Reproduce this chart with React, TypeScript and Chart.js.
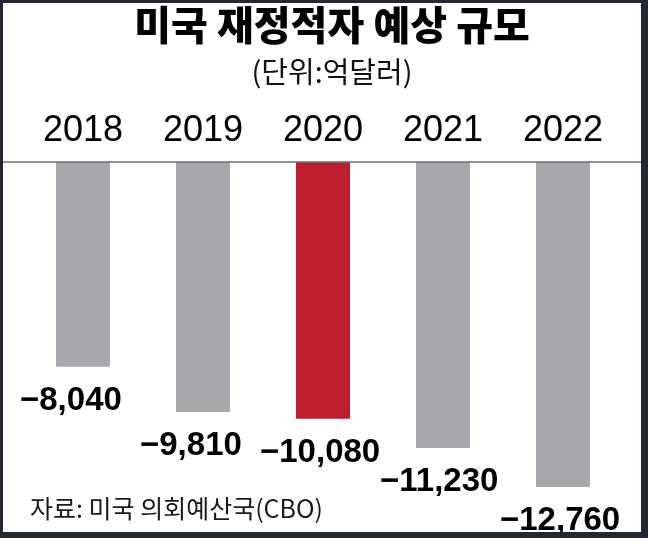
import React, { useEffect, useRef } from "react";
import { Chart, registerables } from "chart.js";

Chart.register(...registerables);

const categories = ["2018", "2019", "2020", "2021", "2022"];
const deficits = [-8040, -9810, -10080, -11230, -12760];
const barColors = ["#a7a8ab", "#a7a8ab", "#be1e2d", "#a7a8ab", "#a7a8ab"];
const titleText = "미국 재정적자 예상 규모";
const unitText = "(단위:억달러)";
const sourceText = "자료: 미국 의회예산국(CBO)";
const yMin = -14000;
const yMax = 0;

const fmt = (v: number) =>
  (v < 0 ? "\u2212" : "") + Math.abs(v).toLocaleString("en-US");

const decorPlugin = {
  id: "decor",
  afterDatasetsDraw(chart: any) {
    const ctx = chart.ctx;
    const y = chart.scales.y;
    const zeroY = y.getPixelForValue(0);
    ctx.save();
    // baseline
    ctx.strokeStyle = "#6f6f6f";
    ctx.lineWidth = 1.5;
    ctx.beginPath();
    ctx.moveTo(0, zeroY);
    ctx.lineTo(chart.width, zeroY);
    ctx.stroke();

    // value labels
    const meta = chart.getDatasetMeta(0);
    ctx.fillStyle = "#000";
    ctx.font = "bold 33px 'Liberation Sans', Arial, sans-serif";
    ctx.textAlign = "left";
    ctx.textBaseline = "alphabetic";
    meta.data.forEach((bar: any, i: number) => {
      const left = bar.x - bar.width / 2 - 36;
      ctx.fillText(fmt(deficits[i]), left, bar.y + 43);
    });

    // title
    const cx = 329;
    ctx.textAlign = "center";
    ctx.font = "900 40px 'Noto Sans CJK KR', sans-serif";
    ctx.fillText(titleText, cx, 37);
    ctx.font = "400 29px 'Noto Sans CJK KR', sans-serif";
    ctx.fillStyle = "#111";
    ctx.fillText(unitText, cx, 80);

    // source
    ctx.textAlign = "left";
    ctx.font = "400 25px 'Noto Sans CJK KR', sans-serif";
    ctx.fillStyle = "#1a1a1a";
    ctx.fillText(sourceText, 27, 515);
    ctx.restore();
  },
};

export default function App() {
  const ref = useRef<HTMLCanvasElement | null>(null);

  useEffect(() => {
    document.body.style.margin = "0";
    if (!ref.current) return;
    const chart = new Chart(ref.current, {
      type: "bar",
      data: {
        labels: categories,
        datasets: [
          {
            data: deficits,
            backgroundColor: barColors,
            borderWidth: 0,
            barPercentage: 0.45,
            categoryPercentage: 1,
          },
        ],
      },
      options: {
        animation: false,
        responsive: false,
        devicePixelRatio: 1,
        layout: { padding: { top: 97, bottom: 13.3, left: 20, right: 18 } },
        plugins: {
          legend: { display: false },
          tooltip: { enabled: false },
          title: { display: false },
        },
        scales: {
          x: {
            position: "top",
            grid: { display: false, drawTicks: false },
            border: { display: false },
            ticks: {
              color: "#000",
              padding: 13,
              font: { family: "'Liberation Sans Narrow', sans-serif", size: 36, lineHeight: 1 },
            },
          },
          y: {
            display: false,
            min: yMin,
            max: yMax,
          },
        },
      },
      plugins: [decorPlugin],
    });
    return () => chart.destroy();
  }, []);

  return (
    <div style={{ width: 648, height: 538, background: "#252733", position: "relative" }}>
      <div
        style={{
          position: "absolute",
          left: 3,
          top: 3,
          width: 638,
          height: 529,
          background: "#ffffff",
        }}
      >
        <canvas ref={ref} width={638} height={529} style={{ display: "block" }} />
      </div>
    </div>
  );
}
